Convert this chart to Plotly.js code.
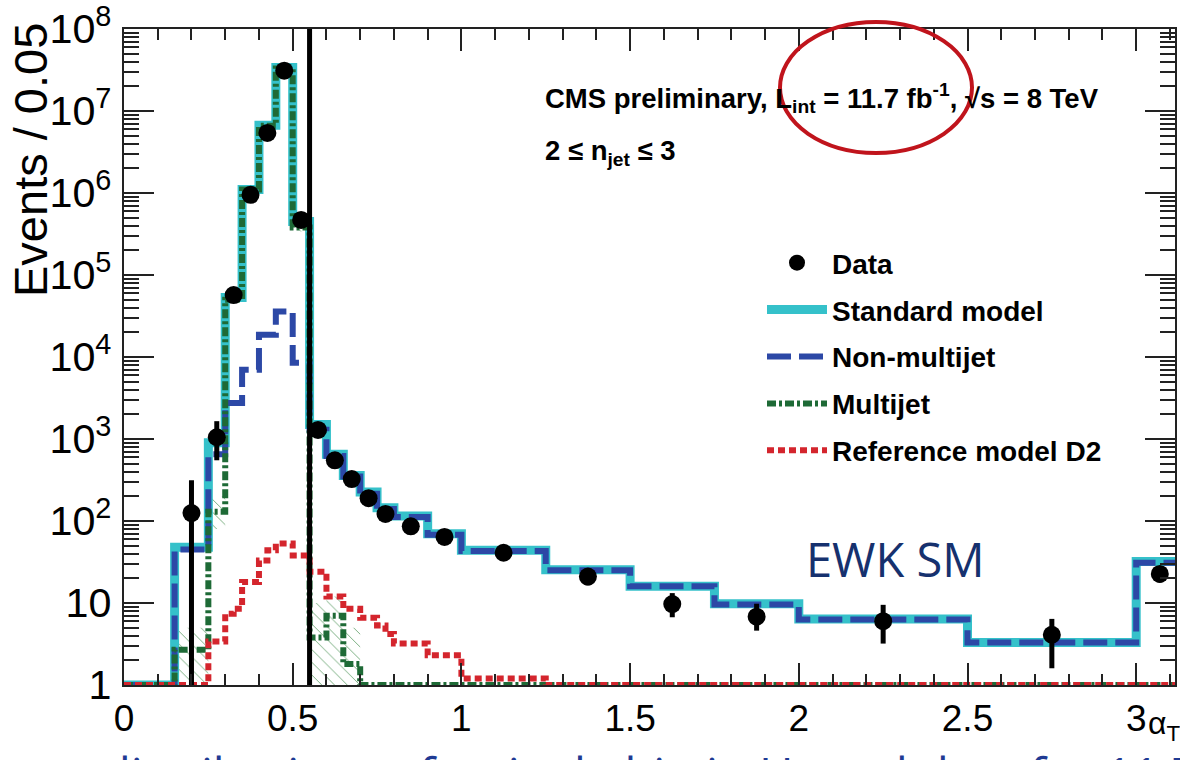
<!DOCTYPE html>
<html>
<head>
<meta charset="utf-8">
<script src="https://cdn.plot.ly/plotly-3.0.1.min.js"></script>
<style>html,body{margin:0;padding:0;background:#fff;}#chart{width:1180px;height:760px;}</style>
</head>
<body>
<div id="chart"></div>
<script>
// ---- data ----
const binEdges = [0, 0.15, 0.25, 0.3, 0.35, 0.4, 0.45, 0.5, 0.55, 0.6, 0.65, 0.7, 0.75, 0.8, 0.9, 1.0, 1.25, 1.5, 1.75, 2.0, 2.5, 3.0, 3.2];
const standardModel = [1, 48, 900, 5.3e4, 1.1e6, 6.7e6, 3.4e7, 4.5e5, 1500, 650, 360, 225, 145, 115, 70, 44, 25.5, 16, 9.8, 6.4, 3.3, 32];
const nonMultijet = [1, 45, 650, 2750, 7000, 1.87e4, 3.6e4, 8500, 1300, 620, 350, 215, 140, 112, 68, 43, 25, 16, 9.6, 6.3, 3.3, 31];
const multijet = [1, 2.7, 130, 5.0e4, 1.1e6, 6.6e6, 3.3e7, 3.8e5, 3.8, 7, 1.8, 1, 1, 1, 1, 1, 1, 1, 1, 1, 1, 1];
const multijetUp = [1, 5, 200, 5.5e4, 1.2e6, 7.2e6, 3.6e7, 4.2e5, 10, 12, 5, 1, 1, 1, 1, 1, 1, 1, 1, 1, 1, 1];
const multijetDown = [1, 1, 80, 4.5e4, 1.0e6, 6.0e6, 3.0e7, 3.4e5, 1, 1, 1, 1, 1, 1, 1, 1, 1, 1, 1, 1, 1, 1];

const d2Edges = [0, 0.25, 0.3, 0.325, 0.35, 0.4, 0.425, 0.45, 0.5, 0.55, 0.6, 0.65, 0.7, 0.75, 0.775, 0.8, 0.9, 1.0, 1.25, 3.2];
const referenceD2 = [1, 3.4, 7.4, 8.5, 18, 33, 44, 53, 38, 24, 12, 8.5, 6.6, 5.3, 4.2, 3.2, 2.3, 1.2, 1];

const dataX = [0.2, 0.275, 0.325, 0.375, 0.425, 0.475, 0.525, 0.575, 0.625, 0.675, 0.725, 0.775, 0.85, 0.95, 1.125, 1.375, 1.625, 1.875, 2.25, 2.75, 3.07];
const dataY = [125, 1050, 5.7e4, 9.5e5, 5.4e6, 3.1e7, 4.7e5, 1290, 550, 325, 190, 122, 86, 64, 41, 21, 9.7, 6.8, 6.0, 4.1, 22.6];
const dataErrUp = [190, 600, 240, 1000, 2300, 5600, 700, 36, 24, 18, 14, 11, 9.3, 8, 6.4, 4.6, 3.5, 3.0, 3.5, 2.3, 4.8];
const dataErrDown = [124.5, 500, 240, 1000, 2300, 5600, 700, 36, 24, 18, 14, 11, 9.3, 8, 6.4, 4.6, 3.0, 2.2, 2.8, 2.5, 4.8];

const cutValue = 0.55;

const legendNames = ['Data', 'Standard model', 'Non-multijet', 'Multijet', 'Reference model D2'];

// ---- helpers ----
function stepY(vals) { return vals.concat([vals[vals.length - 1]]); }

const FONT = 'Liberation Sans, Arial, Helvetica, sans-serif';

const traces = [
  { x: binEdges, y: stepY(multijetDown), mode: 'lines', line: { shape: 'hv', width: 0 }, hoverinfo: 'skip', showlegend: false },
  { x: binEdges, y: stepY(multijetUp), mode: 'lines', line: { shape: 'hv', width: 0 }, fill: 'tonexty',
    fillcolor: 'rgba(0,0,0,0)',
    fillpattern: { shape: '\\', fgcolor: '#6FA877', bgcolor: 'rgba(0,0,0,0)', size: 9, solidity: 0.1 },
    hoverinfo: 'skip', showlegend: false },
  { x: binEdges, y: stepY(standardModel), name: legendNames[1], mode: 'lines',
    line: { shape: 'hv', color: '#35C1CA', width: 9 }, legendgroup: 'g2', legendrank: 2 },
  { x: binEdges, y: stepY(nonMultijet), name: legendNames[2], mode: 'lines',
    line: { shape: 'hv', color: '#2C48A6', width: 6, dash: '24px,8px' }, legendgroup: 'g3', legendrank: 3 },
  { x: binEdges, y: stepY(multijet), name: legendNames[3], mode: 'lines',
    line: { shape: 'hv', color: '#1E6A36', width: 6, dash: '9px,3px,3px,3px' }, legendgroup: 'g4', legendrank: 4 },
  { x: d2Edges, y: stepY(referenceD2), name: legendNames[4], mode: 'lines',
    line: { shape: 'hv', color: '#D4252D', width: 6, dash: '7px,4px' }, legendgroup: 'g5', legendrank: 5 },
  { x: dataX, y: dataY, name: legendNames[0], mode: 'markers',
    marker: { color: '#000', size: 18 },
    error_y: { type: 'data', symmetric: false, array: dataErrUp, arrayminus: dataErrDown, thickness: 5, width: 0, color: '#000' },
    legendgroup: 'g1', legendrank: 1 }
];

const L = 124, T = 29, W = 1180, H = 760, R = 5, B = 75;
const pw = W - L - R, ph = H - T - B;
function px2x(p) { return (p - L) / pw; }
function px2y(p) { return (H - B - p) / ph; }

const layout = {
  width: W, height: H,
  margin: { l: L, r: R, t: T, b: B, pad: 0 },
  paper_bgcolor: '#fff', plot_bgcolor: '#fff',
  font: { family: FONT, color: '#000' },
  showlegend: true,
  legend: {
    x: px2x(762), y: px2y(238), xanchor: 'left', yanchor: 'top',
    bgcolor: 'rgba(0,0,0,0)', borderwidth: 0,
    font: { family: FONT, size: 28, weight: 'bold', color: '#000' },
    traceorder: 'grouped', tracegroupgap: 7.5, itemwidth: 60
  },
  xaxis: {
    range: [0, 3.115], showgrid: false, zeroline: false,
    showline: true, linecolor: '#222', linewidth: 2, mirror: 'allticks',
    ticks: 'inside', ticklen: 22, tickwidth: 2, tickcolor: '#222',
    tick0: 0, dtick: 0.5,
    minor: { ticks: 'inside', ticklen: 11, tickwidth: 2, tickcolor: '#222', dtick: 0.1, showgrid: false },
    tickfont: { family: 'Liberation Sans Narrow, ' + FONT, size: 37, color: '#000' }
  },
  yaxis: {
    type: 'log', range: [0, 8], showgrid: false, zeroline: false,
    showline: true, linecolor: '#222', linewidth: 2, mirror: 'allticks',
    ticks: 'inside', ticklen: 30, tickwidth: 2, tickcolor: '#222',
    dtick: 1, exponentformat: 'power',
    minor: { ticks: 'inside', ticklen: 15, tickwidth: 2, tickcolor: '#222', dtick: 'D1', showgrid: false },
    tickfont: { family: FONT, size: 33, color: '#000' },
    ticklabelstandoff: 4
  },
  shapes: [
    { type: 'line', xref: 'x', yref: 'paper', x0: cutValue, x1: cutValue, y0: 0, y1: 1,
      line: { color: '#000', width: 5 }, layer: 'above' },
    { type: 'circle', xref: 'paper', yref: 'paper', x0: px2x(780), x1: px2x(972), y0: px2y(153), y1: px2y(22),
      line: { color: '#C0141C', width: 4 }, layer: 'above' }
  ],
  annotations: [
    { xref: 'paper', yref: 'paper', x: px2x(30), y: px2y(160), textangle: -90, showarrow: false,
      text: 'Events / 0.05', font: { family: FONT, size: 47, color: '#000' }, xanchor: 'center', yanchor: 'middle' },
    { xref: 'paper', yref: 'paper', x: px2x(543), y: px2y(98), showarrow: false, xanchor: 'left', yanchor: 'middle',
      text: 'CMS preliminary, L<sub>int</sub> = 11.7 fb<sup>-1</sup>, √s = 8 TeV',
      font: { family: FONT, size: 27.5, weight: 'bold', color: '#000' } },
    { xref: 'paper', yref: 'paper', x: px2x(543), y: px2y(152), showarrow: false, xanchor: 'left', yanchor: 'middle',
      text: '2 ≤ n<sub>jet</sub> ≤ 3',
      font: { family: FONT, size: 27.5, weight: 'bold', color: '#000' } },
    { xref: 'paper', yref: 'paper', x: px2x(895), y: px2y(559), showarrow: false, xanchor: 'center', yanchor: 'middle',
      text: 'EWK SM', font: { family: 'Open Sans, sans-serif', size: 47, color: '#16316E' } },
    { xref: 'paper', yref: 'paper', x: px2x(1164), y: px2y(725), showarrow: false, xanchor: 'center', yanchor: 'middle',
      text: 'α<sub>T</sub>', font: { family: FONT, size: 32, color: '#000' } },
    { xref: 'paper', yref: 'paper', x: px2x(100), y: px2y(735), showarrow: false, xanchor: 'left', yanchor: 'top',
      text: 'distributions of a single bin in H<sub>T</sub> and data for 11.7 fb<sup>-1</sup>',
      font: { family: 'Open Sans, sans-serif', size: 47, color: '#1F3A93' } }
  ]
};

Plotly.newPlot('chart', traces, layout, { displayModeBar: false, staticPlot: true });
</script>
</body>
</html>
